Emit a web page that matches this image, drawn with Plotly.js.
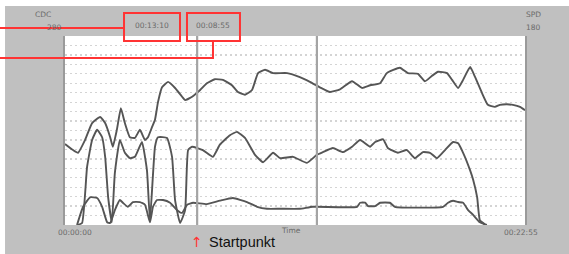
<!DOCTYPE html>
<html>
<head>
<meta charset="utf-8">
<script src="https://cdn.plot.ly/plotly-3.0.1.min.js"></script>
<style>
html,body{margin:0;padding:0;background:#fff;}
#chart{width:569px;height:254px;}
</style>
</head>
<body>
<div id="chart"></div>
<script>
// time in seconds (0 .. 00:22:55 = 1375 s), values on 0..280 scale
var topT = [0,24,39,60,81,105,120,135,143,155,167,179,194,209,224,239,248,260,269,278,290,308,329,350,359,380,404,424,448,472,499,517,538,559,577,598,622,664,702,732,762,792,822,858,888,912,942,962,1001,1025,1055,1076,1097,1115,1142,1157,1175,1190,1211,1226,1246,1264,1285,1300,1321,1339,1360,1375];
var topV = [120,111,107,126,151,160,151,130,116,141,173,151,130,129,141,126,130,145,156,182,204,212,203,190,185,190,200,210,216,215,207,197,193,200,225,230,225,225,219,212,204,197,201,213,203,207,210,225,233,225,224,213,221,227,225,215,203,215,234,219,196,178,175,178,179,178,175,170];

var midT = [36,51,66,81,96,111,120,129,140,149,164,179,194,209,230,245,254,269,278,305,320,329,344,359,368,380,412,442,463,493,514,538,568,592,622,643,682,723,753,771,801,831,858,882,912,927,951,965,995,1022,1046,1070,1091,1112,1136,1160,1175,1190,1211,1220,1232,1240,1255];
var midV = [0,3,86,126,141,130,101,41,4,77,126,107,99,101,123,81,7,116,130,129,101,37,3,22,111,116,111,101,119,133,138,129,104,93,107,99,101,92,104,108,114,108,116,126,116,123,127,114,107,111,99,108,107,99,111,123,121,107,81,67,41,7,1];

var lowT = [36,54,75,96,111,126,135,149,164,173,188,203,224,239,254,263,275,293,314,335,350,365,383,424,463,502,544,574,604,643,702,741,873,882,897,906,927,942,971,986,1130,1145,1160,1175,1190,1205,1220,1240,1261];
var lowV = [0,27,41,40,27,4,3,22,37,33,27,34,34,30,4,27,37,37,33,22,18,30,33,31,36,40,34,27,24,24,24,27,27,33,33,28,28,33,33,27,27,33,36,34,33,22,15,4,0];

var cursorTimes = [395, 753];
var cursorLabels = ["00:13:10", "00:08:55"];
var leftAxisLabels = ["CDC", "280"];
var rightAxisLabels = ["SPD", "180"];
var timeLabels = ["00:00:00", "Time", "00:22:55"];
var noteText = "Startpunkt";

var lineStyle = {color:'#555555', width:1.9, shape:'spline', smoothing:0.4};
var traces = [
  {x:topT, y:topV, mode:'lines', line:lineStyle, hoverinfo:'skip'},
  {x:midT, y:midV, mode:'lines', line:lineStyle, hoverinfo:'skip'},
  {x:lowT, y:lowV, mode:'lines', line:lineStyle, hoverinfo:'skip'}
];

var red = '#ff3333';
var small = {family:'DejaVu Sans, sans-serif', size:7.5, color:'#6a6a6a'};
var shapes = [
  // white margins at top-left of the screenshot
  {type:'rect', xref:'paper', yref:'paper', x0:-0.2, x1:1.2, y0:1.1587, y1:1.3, fillcolor:'#fff', line:{width:0}, layer:'below'},
  {type:'rect', xref:'paper', yref:'paper', x0:-0.2, x1:-0.1304, y0:-0.3, y1:1.3, fillcolor:'#fff', line:{width:0}, layer:'below'},
  // cursors
  {type:'line', xref:'x', yref:'paper', x0:cursorTimes[0], x1:cursorTimes[0], y0:0, y1:1, line:{color:'#a4a4a4', width:2.2}},
  {type:'line', xref:'x', yref:'paper', x0:cursorTimes[1], x1:cursorTimes[1], y0:0, y1:1, line:{color:'#a4a4a4', width:2.2}},
  // red annotation boxes and leaders
  {type:'rect', xref:'paper', yref:'paper', x0:0.1283, x1:0.25, y0:0.9735, y1:1.1217, line:{color:red, width:2}},
  {type:'rect', xref:'paper', yref:'paper', x0:0.2652, x1:0.3804, y0:0.9735, y1:1.1217, line:{color:red, width:2}},
  {type:'line', xref:'paper', yref:'paper', x0:-0.1413, x1:0.1283, y0:1.0423, y1:1.0423, line:{color:red, width:2}},
  {type:'path', xref:'paper', yref:'paper', path:'M -0.1413 0.8836 L 0.3217 0.8836 L 0.3217 0.9735', line:{color:red, width:2}}
];

var ann = [
  {text:leftAxisLabels[0], x:-0.0478, y:1.1164},
  {text:leftAxisLabels[1], x:-0.0239, y:1.0476},
  {text:rightAxisLabels[0], x:1.0174, y:1.1164},
  {text:rightAxisLabels[1], x:1.0174, y:1.0476},
  {text:cursorLabels[0], x:0.1891, y:1.0582},
  {text:cursorLabels[1], x:0.3217, y:1.0582},
  {text:timeLabels[0], x:0.0217, y:-0.0423},
  {text:timeLabels[1], x:0.4913, y:-0.0317},
  {text:timeLabels[2], x:0.9913, y:-0.0423}
].map(function(a){return Object.assign({xref:'paper', yref:'paper', showarrow:false, xanchor:'center', yanchor:'middle', font:small}, a);});
ann.push({text:'↑', x:0.287, y:-0.09, xref:'paper', yref:'paper', showarrow:false, xanchor:'center', yanchor:'middle', font:{family:'DejaVu Sans, sans-serif', size:14, color:red}});
ann.push({text:noteText, x:0.308, y:-0.09, xref:'paper', yref:'paper', showarrow:false, xanchor:'left', yanchor:'middle', font:{family:'Liberation Sans, Arial, sans-serif', size:14.5, color:'#111'}});

var layout = {
  width:569, height:254,
  margin:{l:65, r:44, t:36, b:29, pad:0},
  paper_bgcolor:'#c0c0c0',
  plot_bgcolor:'#ffffff',
  showlegend:false,
  xaxis:{range:[0,1375], showgrid:false, zeroline:false, showticklabels:false, ticks:'', showline:false, fixedrange:true},
  yaxis:{range:[0,280], dtick:14, showgrid:true, gridcolor:'#d4d4d4', griddash:'2px,3px', gridwidth:1.3, zeroline:false, showticklabels:false, ticks:'', showline:true, mirror:true, linecolor:'#9a9a9a', linewidth:2, fixedrange:true},
  shapes:shapes,
  annotations:ann
};

Plotly.newPlot('chart', traces, layout, {staticPlot:true, displayModeBar:false});
</script>
</body>
</html>
